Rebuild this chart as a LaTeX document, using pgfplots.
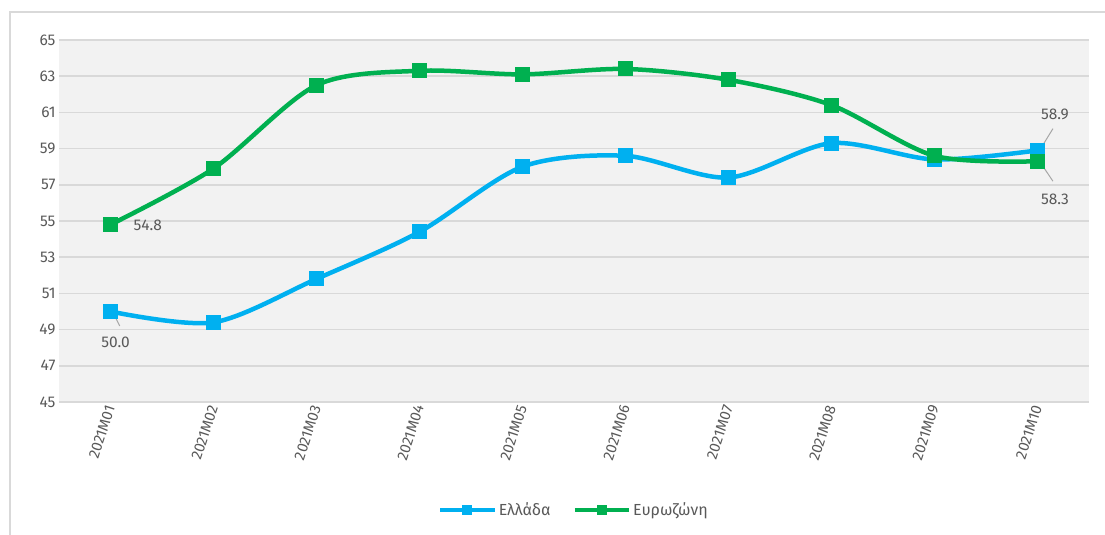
\documentclass[border=0pt]{standalone}
\usepackage{fontspec}
\setmainfont{Fira Sans}
\usepackage{pgfplots}
\pgfplotsset{compat=1.18}
\definecolor{gr}{HTML}{00B050}
\definecolor{bl}{HTML}{00B0F0}
\definecolor{txt}{HTML}{595959}
\definecolor{bgc}{HTML}{F2F2F2}
\definecolor{gridc}{HTML}{D9D9D9}
\begin{document}
\begin{tikzpicture}[x=1pt,y=1pt]
\path[use as bounding box] (0,0) rectangle (1105,535);
\draw[gridc, line width=1.5pt] (10,-5) -- (10,523) -- (1120,523);
\begin{axis}[
  at={(59pt,133pt)}, anchor=south west,
  scale only axis, width=1030pt, height=362pt,
  xmin=-0.5, xmax=9.5, ymin=45, ymax=65,
  ytick={45,47,...,65},
  xtick={0,...,9},
  xticklabels={2021M01,2021M02,2021M03,2021M04,2021M05,2021M06,2021M07,2021M08,2021M09,2021M10},
  x tick label style={rotate=72, anchor=east, font=\fontsize{15}{17}\selectfont, text=txt, yshift=-1pt},
  y tick label style={font=\fontsize{15.5}{17}\selectfont, text=txt},
  /pgf/number format/assume math mode=true,
  major tick length=0pt,
  axis line style={draw=none},
  xmajorgrids=false,
  ymajorgrids, grid style={draw=gridc, line width=1.6pt},
  axis background/.style={fill=bgc},
  legend style={at={(0.5,-0.298)}, anchor=center, draw=none, fill=none, legend columns=2,
    font=\fontsize{16}{18}\selectfont, text=txt, /tikz/every even column/.append style={column sep=20pt}},
  legend image code/.code={\draw[#1, mark size=4.5pt, mark repeat=2, mark phase=2] plot coordinates {(0pt,0pt)(27pt,0pt)(54pt,0pt)};},
  clip=false,
]
\addplot[bl, line width=4.5pt, smooth, tension=0.5, mark=square*, mark size=7pt, mark options={solid, line width=0pt}] coordinates {
(0,50.0)(1,49.4)(2,51.8)(3,54.4)(4,58.0)(5,58.6)(6,57.4)(7,59.3)(8,58.4)(9,58.9)};
\addlegendentry{Ελλάδα}
\addplot[gr, line width=4.5pt, smooth, tension=0.5, mark=square*, mark size=7pt, mark options={solid, line width=0pt}] coordinates {
(0,54.8)(1,57.9)(2,62.5)(3,63.3)(4,63.1)(5,63.4)(6,62.8)(7,61.4)(8,58.6)(9,58.3)};
\addlegendentry{Ευρωζώνη}
\node[text=txt, font=\fontsize{15.5}{17}\selectfont, anchor=west] at (axis cs:0.19,54.75) {54.8};
\draw[gray!70, line width=1pt] (axis cs:0.02,50.0) -- (axis cs:0.09,49.2);
\node[text=txt, font=\fontsize{15.5}{17}\selectfont] at (axis cs:0.05,48.3) {50.0};
\draw[gray!70, line width=1pt] (axis cs:9.02,58.9) -- (axis cs:9.15,60.1);
\node[text=txt, font=\fontsize{15.5}{17}\selectfont] at (axis cs:9.17,60.9) {58.9};
\draw[gray!70, line width=1pt] (axis cs:9.02,58.3) -- (axis cs:9.15,57.2);
\node[text=txt, font=\fontsize{15.5}{17}\selectfont] at (axis cs:9.17,56.2) {58.3};
\end{axis}
\end{tikzpicture}
\end{document}
